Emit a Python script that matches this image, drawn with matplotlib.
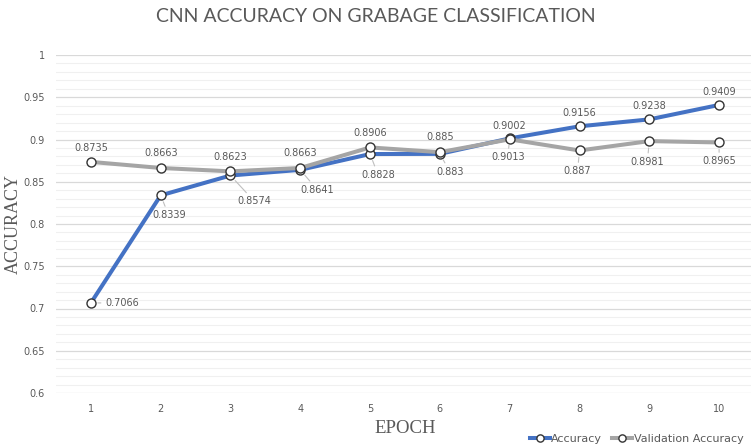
import numpy as np
import matplotlib
matplotlib.use('Agg')
import matplotlib.pyplot as plt
from matplotlib.ticker import MultipleLocator

epochs = [1, 2, 3, 4, 5, 6, 7, 8, 9, 10]
accuracy = [0.7066, 0.8339, 0.8574, 0.8641, 0.8828, 0.883, 0.9013, 0.9156, 0.9238, 0.9409]
val_accuracy = [0.8735, 0.8663, 0.8623, 0.8663, 0.8906, 0.885, 0.9002, 0.887, 0.8981, 0.8965]
acc_text = ['0.7066', '0.8339', '0.8574', '0.8641', '0.8828', '0.883', '0.9013', '0.9156', '0.9238', '0.9409']
val_text = ['0.8735', '0.8663', '0.8623', '0.8663', '0.8906', '0.885', '0.9002', '0.887', '0.8981', '0.8965']

# label offsets in pixels
acc_off = [(31, 0), (8, -20), (24, -26), (17, -20), (8, -21), (10, -18), (-2, -19), (0, 13), (0, 13), (0, 13)]
val_off = [(0, 14), (0, 15), (0, 14), (0, 15), (0, 14), (0, 15), (0, 13), (-2, -21), (-2, -21), (0, -19)]

grey = '#595959'
blue = '#4472C4'
lgrey = '#A5A5A5'

fig = plt.figure(figsize=(7.51, 4.46), dpi=100)
ax = fig.add_axes([56 / 751, 53 / 446, 698 / 751, 338 / 446])

ax.plot(epochs, accuracy, color=blue, lw=2.9, marker='o', ms=6.5, mfc='white',
        mec='#333333', mew=1.0, label='Accuracy', zorder=3)
ax.plot(epochs, val_accuracy, color=lgrey, lw=2.9, marker='o', ms=6.5, mfc='white',
        mec='#333333', mew=1.0, label='Validation Accuracy', zorder=4)

lead = dict(arrowstyle='-', color='#bfbfbf', lw=0.8, shrinkA=1, shrinkB=5)
for x, y, t, o in zip(epochs, accuracy, acc_text, acc_off):
    ap = lead if (abs(o[0]) + abs(o[1])) > 18 else None
    ax.annotate(t, (x, y), xytext=o, textcoords='offset pixels', ha='center', va='center',
                fontsize=7, color=grey, arrowprops=ap, zorder=5)
for x, y, t, o in zip(epochs, val_accuracy, val_text, val_off):
    ap = lead if o[1] < -18 else None
    ax.annotate(t, (x, y), xytext=o, textcoords='offset pixels', ha='center', va='center',
                fontsize=7, color=grey, arrowprops=ap, zorder=5)

ax.set_xlim(0.5, 10.5)
ax.set_ylim(0.6, 1.0)
ax.set_xticks(epochs)
ax.yaxis.set_minor_locator(MultipleLocator(0.01))
ax.set_yticks([0.6, 0.65, 0.7, 0.75, 0.8, 0.85, 0.9, 0.95, 1.0])
ax.set_yticklabels(['0.6', '0.65', '0.7', '0.75', '0.8', '0.85', '0.9', '0.95', '1'])
ax.grid(which='major', axis='y', color='#d9d9d9', lw=0.9)
ax.grid(which='minor', axis='y', color='#f0f0f0', lw=0.8)
ax.tick_params(which='both', length=0, labelsize=7, labelcolor=grey, pad=8)
for s in ax.spines.values():
    s.set_visible(False)
ax.set_axisbelow(True)

fig.text(0.5, 0.962, 'CNN ACCURACY ON GRABAGE CLASSIFICATION', ha='center', va='center',
         fontsize=14, color=grey, family='Lato')
ax.set_ylabel('ACCURACY', family='Liberation Serif', fontsize=13, color=grey, labelpad=1)
ax.set_xlabel('EPOCH', family='Liberation Serif', fontsize=13.5, color=grey, labelpad=4)

fig.legend(loc='lower right', bbox_to_anchor=(1.003, -0.018), ncol=2, frameon=False,
           fontsize=8, labelcolor=grey, handlelength=1.8, handletextpad=0.1,
           columnspacing=0.9, markerscale=0.8)

fig.savefig('out.png', dpi=100)
